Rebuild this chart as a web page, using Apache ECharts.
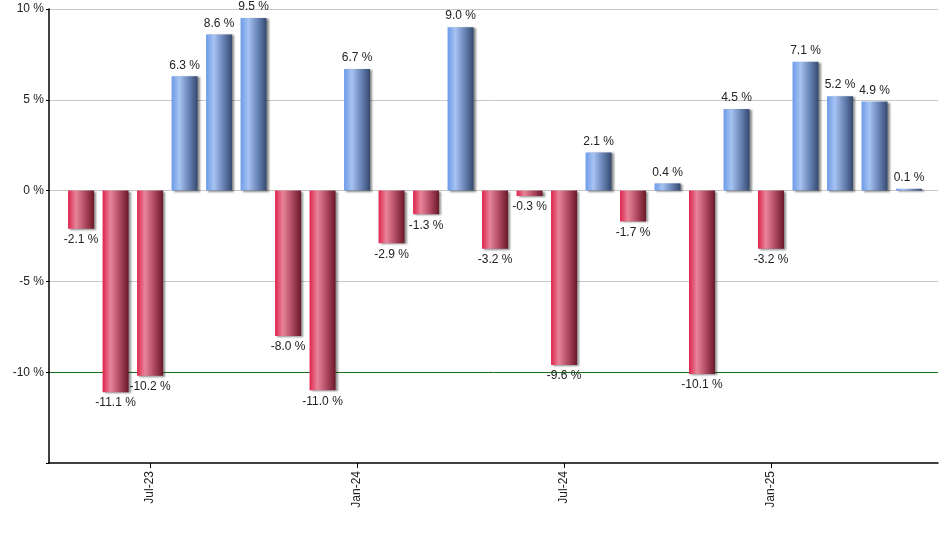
<!DOCTYPE html>
<html>
<head>
<meta charset="utf-8">
<script src="https://cdn.jsdelivr.net/npm/echarts@6/dist/echarts.min.js"></script>
<style>
    html, body { margin: 0; padding: 0; background: #fff; }
    #chart { width: 940px; height: 550px; }
</style>
</head>
<body>
<div id="chart"></div>
<script>
// Monthly returns, May-23 .. May-25
const months = ['May-23', 'Jun-23', 'Jul-23', 'Aug-23', 'Sep-23', 'Oct-23', 'Nov-23', 'Dec-23',
    'Jan-24', 'Feb-24', 'Mar-24', 'Apr-24', 'May-24', 'Jun-24', 'Jul-24', 'Aug-24', 'Sep-24',
    'Oct-24', 'Nov-24', 'Dec-24', 'Jan-25', 'Feb-25', 'Mar-25', 'Apr-25', 'May-25'];
const returns = [-2.1, -11.1, -10.2, 6.3, 8.6, 9.5, -8.0, -11.0, 6.7, -2.9, -1.3, 9.0, -3.2,
    -0.3, -9.6, 2.1, -1.7, 0.4, -10.1, 4.5, -3.2, 7.1, 5.2, 4.9, 0.1];
const tickMonths = ['Jul-23', 'Jan-24', 'Jul-24', 'Jan-25'];
const yTicks = [-15, -10, -5, 0, 5, 10];

const chart = echarts.init(document.getElementById('chart'));

const fontFamily = '"Liberation Sans", Arial, sans-serif';

const blueFill = new echarts.graphic.LinearGradient(0, 0, 1, 0, [
    { offset: 0, color: '#6d9be8' },
    { offset: 0.3, color: '#a6c3f2' },
    { offset: 0.65, color: '#6a86b8' },
    { offset: 1, color: '#34496e' }
]);
const redFill = new echarts.graphic.LinearGradient(0, 0, 1, 0, [
    { offset: 0, color: '#de244c' },
    { offset: 0.3, color: '#e8849a' },
    { offset: 0.65, color: '#b04a62' },
    { offset: 1, color: '#6a1828' }
]);

const barData = returns.map((v, i) => ({
    value: [i, v],
    itemStyle: { color: v >= 0 ? blueFill : redFill },
    label: { position: v >= 0 ? 'top' : 'bottom' }
}));

const tickIdx = tickMonths.map(m => months.indexOf(m));

const option = {
    animation: false,
    backgroundColor: '#fff',
    grid: { left: 49, right: 2, top: 9, bottom: 87 },
    xAxis: {
        type: 'value',
        min: -0.93,
        max: 24.84,
        axisLine: { show: true, onZero: false, lineStyle: { color: '#000', width: 1.5 } },
        axisTick: { show: true, length: 5, customValues: tickIdx, lineStyle: { color: '#000' } },
        axisLabel: {
            customValues: tickIdx,
            rotate: 90,
            margin: 8,
            color: '#222',
            fontSize: 12,
            fontFamily: fontFamily,
            formatter: v => months[Math.round(v)]
        },
        splitLine: { show: false }
    },
    yAxis: {
        type: 'value',
        min: yTicks[0],
        max: yTicks[yTicks.length - 1],
        interval: 5,
        axisLine: { show: true, onZero: false, lineStyle: { color: '#000', width: 1.5 } },
        axisTick: { show: true, length: 3, lineStyle: { color: '#000' } },
        axisLabel: {
            color: '#222',
            fontSize: 12,
            fontFamily: fontFamily,
            margin: 5,
            formatter: v => v === yTicks[0] ? '' : v + ' %'
        },
        splitLine: {
            show: true,
            lineStyle: { color: ['#fff', '#1a6e1a', '#c8c8c8', '#c8c8c8', '#c8c8c8', '#c8c8c8'], width: 1 }
        }
    },
    series: [{
        type: 'bar',
        barWidth: 26,
        data: barData,
        itemStyle: {
            shadowColor: 'rgba(0,0,0,0.45)',
            shadowBlur: 2,
            shadowOffsetX: 2,
            shadowOffsetY: 1
        },
        label: {
            show: true,
            distance: 5,
            color: '#222',
            fontSize: 12,
            fontFamily: fontFamily,
            formatter: p => p.value[1].toFixed(1) + ' %'
        }
    }]
};

chart.setOption(option);
</script>
</body>
</html>
